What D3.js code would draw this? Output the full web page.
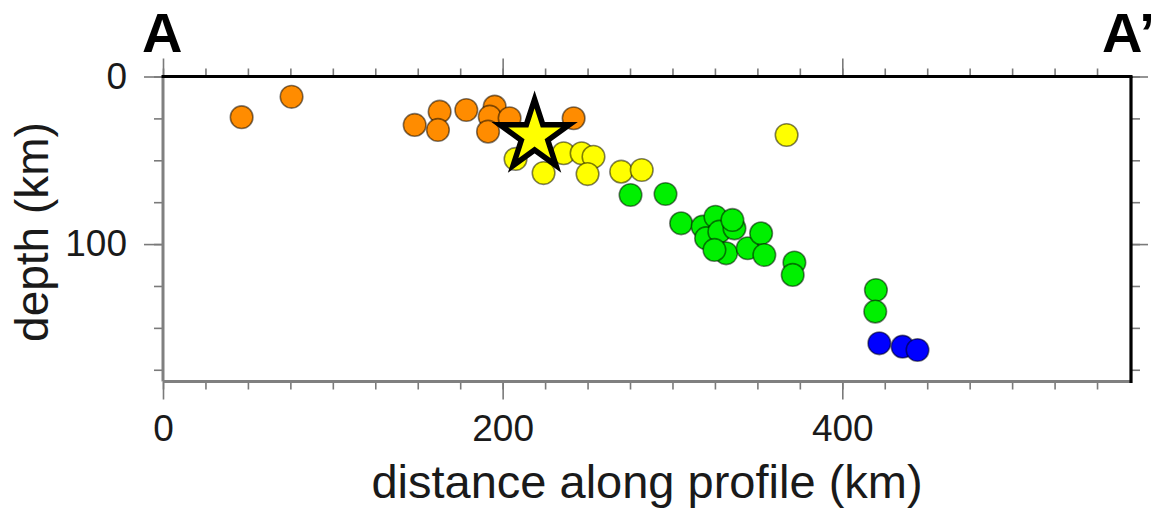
<!DOCTYPE html>
<html>
<head>
<meta charset="utf-8">
<script src="https://cdn.jsdelivr.net/npm/d3@7"></script>
<style>
  html, body { margin: 0; padding: 0; background: #fff; }
  svg { display: block; font-family: "Liberation Sans", Arial, Helvetica, sans-serif; }
</style>
</head>
<body>
<svg id="chart" width="1159" height="515"></svg>
<script>
// ---- data (distance along profile km, depth km) ----
const orangeDist  = [46.3, 75.7, 148.2, 162.9, 161.9, 178.6, 195.3, 192.4, 191.4, 204.1, 241.8];
const orangeDepth = [24.3, 12.1, 28.9, 21.0, 31.9, 20.0, 18.0, 24.0, 32.9, 24.9, 24.9];

const yellowDist  = [207.6, 224.1, 235.9, 246.5, 253.5, 250.0, 269.8, 281.9, 367.2];
const yellowDepth = [49.2, 57.6, 45.8, 45.8, 47.9, 58.2, 56.8, 55.8, 34.9];

const greenDist  = [275.3, 295.9, 305.1, 317.8, 325.3, 319.8, 327.6, 336.5, 335.3, 331.6, 324.7, 344.3, 352.2, 354.1, 371.8, 370.8, 419.8, 419.4];
const greenDepth = [70.7, 70.1, 87.6, 89.6, 83.7, 96.5, 92.6, 90.6, 85.6, 105.5, 103.5, 102.5, 93.6, 106.5, 111.0, 118.4, 127.4, 140.3];

const blueDist  = [421.8, 435.5, 444.3];
const blueDepth = [159.2, 161.2, 163.2];

const starDist = [218.8];
const starDepth = [35.5];

const xTickLabels = [0, 200, 400];
const yTickLabels = [0, 100];
const xMinorTicks = [0,25,50,75,100,125,150,175,200,225,250,275,300,325,350,375,400,425,450,475,500,525,550];
const yMinorTicks = [0,25,50,75,100,125,150,175];

const xTitle = "distance along profile (km)";
const yTitle = "depth (km)";
const leftLabel = "A";
const rightLabel = "A\u2019";

// ---- layout ----
const svg = d3.select("#chart");
const L = 163, R = 1131, T = 76.5, B = 381.5;

const x = d3.scaleLinear().domain([0, 570]).range([L, R]);
const y = d3.scaleLinear().domain([0, 182]).range([T, B]);

const tickColor = "#7a7a7a";

function styleAxis(g) {
  g.select(".domain").remove();
  g.selectAll(".tick line").attr("stroke", tickColor).attr("stroke-width", 1.6);
  g.selectAll(".tick text").attr("fill", "#1a1a1a").attr("font-size", 37)
    .attr("font-family", "'Liberation Sans', Arial, Helvetica, sans-serif");
}

// bottom
svg.append("g").attr("transform", `translate(0,${B})`)
  .call(d3.axisBottom(x).tickValues(xMinorTicks).tickSize(8).tickFormat("")).call(styleAxis);
svg.append("g").attr("transform", `translate(0,${B})`)
  .call(d3.axisBottom(x).tickValues(xTickLabels).tickSize(18).tickPadding(15).tickFormat(d3.format("d"))).call(styleAxis);
// top
svg.append("g").attr("transform", `translate(0,${T})`)
  .call(d3.axisTop(x).tickValues(xMinorTicks).tickSize(8).tickFormat("")).call(styleAxis);
svg.append("g").attr("transform", `translate(0,${T})`)
  .call(d3.axisTop(x).tickValues(xTickLabels).tickSize(18).tickFormat("")).call(styleAxis);
// left
svg.append("g").attr("transform", `translate(${L},0)`)
  .call(d3.axisLeft(y).tickValues(yMinorTicks).tickSize(9).tickFormat("")).call(styleAxis);
svg.append("g").attr("transform", `translate(${L},0)`)
  .call(d3.axisLeft(y).tickValues(yTickLabels).tickSize(19).tickPadding(17).tickFormat(d3.format("d"))).call(styleAxis);
// right
svg.append("g").attr("transform", `translate(${R},0)`)
  .call(d3.axisRight(y).tickValues(yMinorTicks).tickSize(9).tickFormat("")).call(styleAxis);
svg.append("g").attr("transform", `translate(${R},0)`)
  .call(d3.axisRight(y).tickValues(yTickLabels).tickSize(17).tickFormat("")).call(styleAxis);

// frame
svg.append("line").attr("x1", L).attr("x2", R).attr("y1", B).attr("y2", B)
  .attr("stroke", "#808080").attr("stroke-width", 3);
svg.append("line").attr("x1", L).attr("x2", L).attr("y1", T).attr("y2", B)
  .attr("stroke", "#808080").attr("stroke-width", 3);
svg.append("line").attr("x1", L - 1.5).attr("x2", R + 1.5).attr("y1", T).attr("y2", T)
  .attr("stroke", "#000").attr("stroke-width", 3.2);
svg.append("line").attr("x1", R).attr("x2", R).attr("y1", T).attr("y2", B + 1.5)
  .attr("stroke", "#000").attr("stroke-width", 3.2);

// circles
const groups = [
  { d: orangeDist, z: orangeDepth, fill: "#ff8c00" },
  { d: yellowDist, z: yellowDepth, fill: "#ffff00" },
  { d: greenDist,  z: greenDepth,  fill: "#00f000" },
  { d: blueDist,   z: blueDepth,   fill: "#0000ff" }
];
groups.forEach(gr => {
  const pts = gr.d.map((v, i) => [v, gr.z[i]]);
  svg.append("g").selectAll("circle").data(pts).join("circle")
    .attr("cx", p => x(p[0])).attr("cy", p => y(p[1])).attr("r", 11.3)
    .attr("fill", gr.fill).attr("stroke", "rgba(0,0,0,0.5)").attr("stroke-width", 1.6);
});

// star
const starPts = starDist.map((v, i) => [v, starDepth[i]]);
svg.append("g").selectAll("path").data(starPts).join("path")
  .attr("transform", p => `translate(${x(p[0])},${y(p[1])})`)
  .attr("d", d3.symbol(d3.symbolStar, 1500)())
  .attr("fill", "#ffff00").attr("stroke", "#000").attr("stroke-width", 5.5)
  .attr("stroke-linejoin", "miter");

// titles
svg.append("text").attr("x", (L + R) / 2).attr("y", 498).attr("text-anchor", "middle")
  .attr("font-size", 47).attr("fill", "#1a1a1a").text(xTitle);
svg.append("text").attr("transform", `translate(48,${(T + B) / 2 + 3}) rotate(-90)`)
  .attr("text-anchor", "middle").attr("font-size", 46).attr("fill", "#1a1a1a").text(yTitle);

// section labels
svg.append("text").attr("x", 142).attr("y", 52).attr("font-size", 56).attr("font-weight", "bold")
  .attr("fill", "#000").text(leftLabel);
svg.append("text").attr("x", 1102).attr("y", 52).attr("font-size", 56).attr("font-weight", "bold")
  .attr("fill", "#000").text(rightLabel);
</script>
</body>
</html>
